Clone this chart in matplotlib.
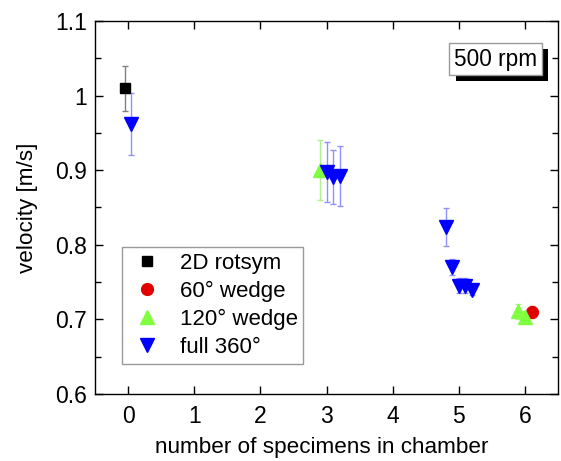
import numpy as np
import matplotlib
matplotlib.use("Agg")
import matplotlib.pyplot as plt
from matplotlib import patheffects
from matplotlib.ticker import MultipleLocator

plt.rcParams.update({
    "font.family": ["Liberation Sans", "DejaVu Sans"],
    "font.size": 16.5,
    "axes.linewidth": 1.0,
})

# 2D rotationally symmetric
rot_x = [-0.05]
rot_v = [1.01]
rot_e = [0.03]

# 60 deg wedge
w60_x = [6.1]
w60_v = [0.71]
w60_e = [0.008]

# 120 deg wedge
w120_x = [2.9, 5.9, 6.0]
w120_v = [0.90, 0.711, 0.703]
w120_e = [0.04, 0.01, 0.008]

# full 360 deg
full_x = [0.05, 3.0, 3.1, 3.2, 4.8, 4.9, 5.0, 5.1, 5.2]
full_v = [0.962, 0.898, 0.891, 0.892, 0.824, 0.770, 0.745, 0.745, 0.739]
full_e = [0.042, 0.04, 0.036, 0.04, 0.025, 0.011, 0.01, 0.01, 0.006]

SERIES = [
    ("2D rotsym", rot_x, rot_v, rot_e, "s", "black", "#808080", 7.5),
    ("60° wedge", w60_x, w60_v, w60_e, "o", "#e00000", "#f08080", 8.5),
    ("120° wedge", w120_x, w120_v, w120_e, "^", "#80ff40", "#b0f090", 10.5),
    ("full 360°", full_x, full_v, full_e, "v", "#0000ff", "#9090ff", 10.5),
]

fig = plt.figure(figsize=(5.61, 4.61), dpi=100)
ax = fig.add_axes([95 / 561, 67 / 461, 463 / 561, 373 / 461])

for label, x, v, e, mk, col, ecol, ms in SERIES:
    ax.errorbar(x, v, yerr=e, fmt="none", ecolor=ecol, elinewidth=1.0,
                capsize=2.5, capthick=1.0, zorder=2)
    ax.plot(x, v, ls="none", marker=mk, color=col, ms=ms, mec=col,
            label=label, zorder=3)

ax.set_xlim(-0.5, 6.5)
ax.set_ylim(0.6, 1.1)
ax.xaxis.set_major_locator(MultipleLocator(1))
ax.yaxis.set_major_locator(MultipleLocator(0.1))
ax.yaxis.set_minor_locator(MultipleLocator(0.05))
ax.yaxis.set_major_formatter(plt.FuncFormatter(lambda v, p: f"{v:g}"))
ax.tick_params(direction="in", top=True, right=True, length=5.5, width=1.0,
               labelsize=16.5, pad=6)
ax.tick_params(axis="x", pad=8)
ax.tick_params(which="minor", direction="in", right=True, length=4, width=1.0)

ax.set_xlabel("number of specimens in chamber", fontsize=16.2, labelpad=8)
ax.xaxis.set_label_coords(0.49, -0.115)
ax.set_ylabel("velocity [m/s]", fontsize=16.2, labelpad=12)

leg = ax.legend(loc="upper left", bbox_to_anchor=(0.058, 0.394), borderaxespad=0,
                numpoints=1, fancybox=False, framealpha=1, edgecolor="#999999",
                fontsize=16, handletextpad=0.55, labelspacing=0.32,
                borderpad=0.25, handlelength=1.8)
leg.get_frame().set_linewidth(1.0)

t = ax.text(0.865, 0.898, "500 rpm", transform=ax.transAxes, ha="center",
            va="center", fontsize=16.3,
            bbox=dict(boxstyle="square,pad=0.2", fc="white", ec="#999999", lw=1))
t.get_bbox_patch().set_path_effects([
    patheffects.withSimplePatchShadow(offset=(4.5, -4.5), shadow_rgbFace="black",
                                      alpha=1.0)])

fig.savefig("out.png", dpi=100, facecolor="white")
